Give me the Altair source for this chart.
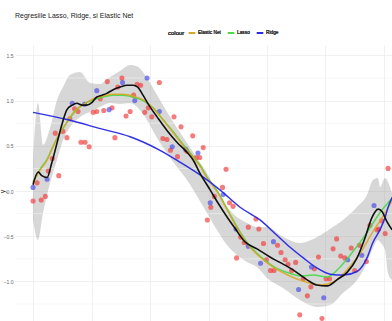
import altair as alt
import pandas as pd

FONT = "Liberation Sans"

# Observations: training sample (red) and test sample (blue)
train_x = [0.00, 0.07, 0.14, 0.21, 0.26, 0.33, 0.44, 0.38, 0.51, 0.58, 0.63, 0.71, 0.77, 0.82, 0.89,
           0.96, 1.03, 1.09, 1.15, 1.21, 1.27, 1.35, 1.40, 1.45, 1.52, 1.59, 1.66, 1.72, 1.78, 1.84,
           1.91, 1.97, 2.03, 2.16, 2.22, 2.29, 2.35, 2.41, 2.47, 2.53, 2.63, 2.73, 2.79, 2.85, 2.91,
           2.98, 3.04, 3.10, 3.24, 3.30, 3.36, 3.42, 3.48, 3.55, 3.61, 3.68, 3.81, 3.86, 3.94, 3.99,
           4.06, 4.12, 4.18, 4.24, 4.31, 4.36, 4.42, 4.49, 4.56, 4.62, 4.69, 4.75, 4.81, 4.88, 4.94,
           5.01, 5.07, 5.13, 5.19, 5.26, 5.33, 5.44, 5.50, 5.58, 5.70, 5.76, 5.88, 5.91, 5.96, 6.02,
           6.07]
train_y = [-0.11, 0.09, -0.10, -0.06, 0.22, 0.36, 0.17, 0.64, 0.66, 0.59, 0.80, 0.91, 0.88, 0.54, 0.54,
           0.49, 0.87, 0.88, 1.02, 0.89, 1.21, 0.92, 0.59, 1.15, 1.25, 0.83, 0.88, 1.06, 1.18, 1.17,
           0.87, 0.92, 0.82, 1.20, 0.58, 0.57, 0.45, 0.82, 0.38, 0.71, 0.44, 0.61, 0.37, 0.37, 0.48,
           -0.32, -0.18, -0.06, 0.04, 0.24, -0.13, -0.17, -0.74, -0.51, -0.57, -0.40, -0.31, -0.42, -0.58, -0.76,
           -0.88, -0.88, -0.60, -0.68, -0.76, -0.81, -0.88, -0.79, -1.37, -0.97, -1.16, -1.06, -0.86, -0.73, -1.41,
           -0.97, -0.97, -0.64, -0.53, -0.72, -0.74, -0.63, -0.88, -0.60, -0.78, -0.38, -0.43, -0.42, -0.33, -0.47,
           0.25]
test_x = [0.00, 0.24, 0.67, 0.88, 1.09, 1.30, 1.53, 1.74, 1.95, 2.16, 2.38, 2.61, 2.82, 3.03, 3.25,
          3.47, 3.68, 3.89, 4.11, 4.54, 4.76, 4.97, 5.38, 5.62, 5.83]
test_y = [0.04, 0.13, 0.97, 0.96, 1.11, 0.90, 1.20, 1.00, 1.25, 0.88, 0.49, 0.46, 0.42, -0.13, -0.04,
          -0.42, -0.61, -0.80, -0.56, -1.09, -0.84, -1.18, -0.76, -0.71, -0.16]

# Loess smoother and its confidence band
smooth_x = [0.00, 0.09, 0.15, 0.24, 0.32, 0.41, 0.50, 0.58, 0.67, 0.75, 0.84, 0.92, 1.01, 1.09, 1.18,
            1.26, 1.37, 1.49, 1.61, 1.71, 1.79, 1.88, 2.00, 2.12, 2.29, 2.46, 2.63, 2.74, 2.85, 3.03,
            3.16, 3.32, 3.45, 3.62, 3.83, 4.05, 4.22, 4.44, 4.68, 4.85, 5.03, 5.20, 5.37, 5.54, 5.68,
            5.79, 5.90, 5.97, 6.05, 6.14]
smooth_y = [0.07, 0.21, 0.17, 0.15, 0.31, 0.53, 0.75, 0.90, 0.95, 0.97, 0.95, 0.95, 0.98, 1.04, 1.06,
            1.08, 1.12, 1.15, 1.17, 1.17, 1.15, 1.06, 0.93, 0.82, 0.67, 0.54, 0.43, 0.34, 0.20, 0.01,
            -0.13, -0.29, -0.41, -0.56, -0.64, -0.73, -0.79, -0.87, -0.98, -1.04, -1.05, -0.98, -0.90, -0.74, -0.51,
            -0.30, -0.20, -0.23, -0.34, -0.43]
band_x = [0.000, 0.085, 0.171, 0.291, 0.410, 0.513, 0.632, 0.803, 0.974, 1.145, 1.316, 1.487, 1.658,
          1.795, 1.949, 2.120, 2.291, 2.462, 2.632, 2.803, 2.974, 3.145, 3.316, 3.487, 3.658, 3.829,
          4.000, 4.274, 4.564, 4.855, 5.077, 5.299, 5.538, 5.709, 5.812, 5.897, 5.932, 6.017, 6.068, 6.137]
band_hi = [0.376, 0.973, 0.509, 0.697, 1.007, 1.150, 1.283, 1.316, 1.195, 1.184, 1.261, 1.327, 1.394,
           1.372, 1.250, 1.062, 0.874, 0.697, 0.531, 0.365, 0.199, -0.011, -0.177, -0.288, -0.354, -0.398,
           -0.398, -0.509, -0.575, -0.509, -0.420, -0.321, -0.177, -0.044, 0.122, 0.144, 0.044, 0.144, 0.100, -0.022]
band_lo = [-0.321, -0.542, -0.243, 0.088, 0.343, 0.564, 0.708, 0.819, 0.874, 0.929, 0.973, 0.962, 0.973,
           0.918, 0.785, 0.586, 0.420, 0.265, 0.122, -0.055, -0.243, -0.431, -0.597, -0.708, -0.785, -0.841,
           -0.962, -1.073, -1.206, -1.283, -1.261, -1.128, -0.985, -0.796, -0.631, -0.542, -0.564, -0.653, -0.907, -0.985]

# Penalised regression fits
enet_x = [0.00, 0.12, 0.24, 0.34, 0.46, 0.58, 0.68, 0.80, 0.92, 1.03, 1.20, 1.37, 1.54, 1.71, 1.88,
          2.05, 2.22, 2.39, 2.56, 2.74, 2.85, 2.97, 3.15, 3.32, 3.49, 3.66, 3.88, 4.10, 4.39, 4.68,
          4.91, 5.13, 5.37, 5.59, 5.81, 6.05, 6.14]
enet_y = [0.09, 0.23, 0.34, 0.49, 0.64, 0.76, 0.86, 0.93, 0.98, 1.02, 1.05, 1.07, 1.07, 1.05, 1.01,
          0.92, 0.79, 0.65, 0.51, 0.37, 0.28, 0.15, -0.01, -0.21, -0.41, -0.58, -0.73, -0.84, -0.94, -1.01,
          -1.04, -1.01, -0.87, -0.69, -0.45, -0.21, -0.10]
lasso_x = [0.00, 0.12, 0.24, 0.34, 0.46, 0.58, 0.68, 0.80, 0.92, 1.03, 1.20, 1.37, 1.54, 1.71, 1.88,
           2.05, 2.22, 2.39, 2.56, 2.74, 2.85, 2.97, 3.15, 3.32, 3.49, 3.66, 3.88, 4.10, 4.39, 4.60,
           4.79, 5.03, 5.25, 5.47, 5.71, 5.93, 6.14]
lasso_y = [0.10, 0.24, 0.35, 0.49, 0.64, 0.76, 0.85, 0.93, 0.98, 1.01, 1.04, 1.06, 1.06, 1.04, 1.00,
           0.92, 0.79, 0.66, 0.52, 0.38, 0.29, 0.16, 0.00, -0.20, -0.40, -0.57, -0.72, -0.83, -0.91, -0.94,
           -0.93, -0.95, -0.84, -0.67, -0.46, -0.24, -0.08]
ridge_x = [0.00, 0.58, 1.15, 1.66, 2.17, 2.51, 2.85, 3.20, 3.54, 3.88, 4.17, 4.39, 4.62, 4.85, 5.08,
           5.30, 5.54, 5.71, 5.81, 5.93, 6.02, 6.07, 6.14]
ridge_y = [0.87, 0.79, 0.69, 0.60, 0.45, 0.32, 0.18, 0.01, -0.18, -0.32, -0.49, -0.62, -0.74, -0.85, -0.92,
           -0.93, -0.89, -0.74, -0.57, -0.43, -0.29, -0.18, -0.07]

# Axis breaks: labelled major lines and unlabelled minor lines
y_major = [-1.0, -0.5, 0.0, 0.5, 1.0, 1.5]
y_minor = [-1.25, -0.75, -0.25, 0.25, 0.75, 1.25]
x_grid = [0, 1, 2, 3, 4, 5, 6]

models = ["Elastic Net", "Lasso", "Ridge"]
model_colors = ["#D9A420", "#47D847", "#2626E6"]

points = pd.concat([
    pd.DataFrame({"x": train_x, "y": train_y, "set": "train"}),
    pd.DataFrame({"x": test_x, "y": test_y, "set": "test"}),
])
smooth = pd.DataFrame({"x": smooth_x, "y": smooth_y})
band = pd.DataFrame({"x": band_x, "lo": band_lo, "hi": band_hi})
fits = pd.concat([
    pd.DataFrame({"x": enet_x, "y": enet_y, "colour": "Elastic Net"}),
    pd.DataFrame({"x": lasso_x, "y": lasso_y, "colour": "Lasso"}),
    pd.DataFrame({"x": ridge_x, "y": ridge_y, "colour": "Ridge"}),
])
minor = pd.DataFrame({"y": y_minor})

xs = alt.Scale(domain=[-0.308, 6.137], nice=False, zero=False)
ys = alt.Scale(domain=[-1.438, 1.615], nice=False, zero=False)

x_enc = alt.X("x:Q", scale=xs,
              axis=alt.Axis(values=x_grid, labels=False, ticks=False,
                            domain=False, title=None, grid=True))
y_enc = alt.Y("lo:Q", scale=ys,
              axis=alt.Axis(values=y_major, format=".1f", ticks=False, domain=False,
                            grid=True, title="y", titleX=-10, titleY=146))

colour_scale = alt.Scale(domain=models, range=model_colors)

ribbon = alt.Chart(band).mark_area(color="#9A9A9A", opacity=0.4, clip=True,
                                   interpolate="monotone").encode(
    x=x_enc, y=y_enc, y2="hi:Q")

minor_grid = alt.Chart(minor).mark_rule(color="#F1F1F1", strokeWidth=0.6).encode(
    y="y:Q")

dots = alt.Chart(points).mark_circle(size=26, opacity=0.68, clip=True).encode(
    x="x:Q", y="y:Q",
    color=alt.Color("set:N", scale=alt.Scale(domain=["train", "test"],
                                             range=["#F23C3C", "#4B4BE8"]), legend=None))

def fit_layer(name, opacity):
    return alt.Chart(fits).transform_filter(alt.datum.colour == name).mark_line(
        strokeWidth=1.5, opacity=opacity, clip=True, interpolate="monotone").encode(
        x="x:Q", y="y:Q",
        color=alt.Color("colour:N", scale=colour_scale, title="colour"))

lasso_line = fit_layer("Lasso", 0.9)
enet_line = fit_layer("Elastic Net", 0.85)
ridge_line = fit_layer("Ridge", 0.95)

loess_line = alt.Chart(smooth).mark_line(color="#111111", strokeWidth=1.6, clip=True,
                                         interpolate="monotone").encode(
    x="x:Q", y="y:Q")

chart = alt.layer(
    ribbon, minor_grid, dots, lasso_line, enet_line, ridge_line, loess_line
).resolve_scale(color="independent").properties(
    width=377, height=276,
    autosize=alt.AutoSizeParams(type="none"),
    padding={"left": 15, "top": 45, "right": 0, "bottom": 0},
    title=alt.TitleParams("Regresiile Lasso, Ridge, si Elastic Net", anchor="start",
                          frame="group", fontSize=7, font=FONT, fontWeight="normal",
                          color="#222222", offset=10),
).configure_view(stroke=None).configure_axis(
    gridColor="#EBEBEB", gridWidth=0.7, labelFont=FONT, labelFontSize=5,
    labelColor="#666666", labelPadding=2, titleFont=FONT, titleFontSize=7,
    titleFontWeight="normal", titleColor="#333333",
).configure_legend(
    orient="none", legendX=153, legendY=-16, direction="horizontal",
    titleOrient="left",
    titleFont=FONT, titleFontSize=6, titleFontWeight="normal", titleColor="#333333",
    labelFont=FONT, labelFontSize=4.8, labelColor="#333333",
    symbolType="stroke", symbolStrokeWidth=1.5, symbolSize=40,
    columnPadding=3, labelOffset=2, titlePadding=3,
)

chart.save("out.html", embed_options={"renderer": "svg", "actions": False})
